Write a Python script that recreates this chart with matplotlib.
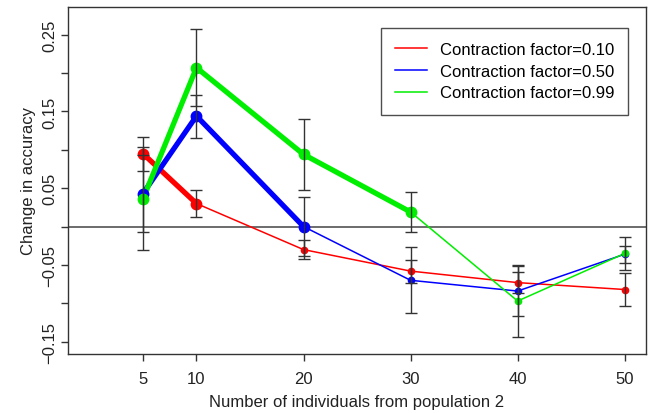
import matplotlib
matplotlib.use('Agg')
import matplotlib.pyplot as plt
from matplotlib.lines import Line2D

plt.rcParams['font.family'] = ['Liberation Sans', 'DejaVu Sans']

# number of individuals from population 2
n_ind = [5, 10, 20, 30, 40, 50]

# mean change in accuracy and error bar half-widths for each contraction factor
cf010_mean = [0.095, 0.030, -0.030, -0.058, -0.073, -0.082]
cf010_err = [0.022, 0.017, 0.012, 0.015, 0.014, 0.021]
cf050_mean = [0.043, 0.144, 0.000, -0.070, -0.084, -0.036]
cf050_err = [0.050, 0.028, 0.038, 0.043, 0.033, 0.011]
cf099_mean = [0.036, 0.207, 0.094, 0.019, -0.097, -0.035]
cf099_err = [0.067, 0.050, 0.046, 0.026, 0.047, 0.022]

# last x value of the bold (significant) part of each curve
bold_until = [10, 20, 30]

labels = ['Contraction factor=0.10', 'Contraction factor=0.50', 'Contraction factor=0.99']
colors = ['#ff0000', '#0000ff', '#00ee00']

yticks = [-0.15, -0.10, -0.05, 0.0, 0.05, 0.10, 0.15, 0.20, 0.25]
ytick_labels = ['\u22120.15', '', '\u22120.05', '', '0.05', '', '0.15', '', '0.25']

series = [(cf010_mean, cf010_err), (cf050_mean, cf050_err), (cf099_mean, cf099_err)]

fig = plt.figure(figsize=(6.5, 4.14), dpi=100)
ax = fig.add_axes([0.1046, 0.1425, 0.8894, 0.8382])

ax.axhline(0, color='#444444', lw=1.1, zorder=1)

for (m, e), col, lim in zip(series, colors, bold_until):
    k = n_ind.index(lim)
    ax.plot(n_ind[:k + 1], m[:k + 1], color=col, lw=3.8, solid_capstyle='round', zorder=2)
    ax.plot(n_ind[k:], m[k:], color=col, lw=1.1, zorder=2)
    ax.plot(n_ind[:k + 1], m[:k + 1], 'o', color=col, ms=7.5, mec=col, zorder=3, ls='none')
    ax.plot(n_ind[k + 1:], m[k + 1:], 'o', color=col, ms=4.5, mec=col, zorder=3, ls='none')

for (m, e) in series:
    ax.errorbar(n_ind, m, yerr=e, fmt='none', ecolor='#333333', elinewidth=1.0,
                capsize=4, capthick=1.0, zorder=4)

ax.set_xlim(-2, 52)
ax.set_ylim(-0.166, 0.286)
ax.set_xticks(n_ind)
ax.set_xticklabels([str(v) for v in n_ind])
ax.set_yticks(yticks)
ax.set_yticklabels(ytick_labels, rotation=90, va='center')
ax.tick_params(direction='out', length=5, width=1, color='#333333', labelsize=12,
               labelcolor='#222222')
ax.tick_params(axis='x', pad=7)
ax.tick_params(axis='y', pad=3)
for s in ax.spines.values():
    s.set_color('#333333')
    s.set_linewidth(1.0)

ax.set_xlabel('Number of individuals from population 2', fontsize=12, color='#222222', labelpad=6)
ax.set_ylabel('Change in accuracy', fontsize=12, color='#222222', labelpad=4)

handles = [Line2D([], [], color=c, lw=1.1) for c in colors]
leg = ax.legend(handles, labels, loc='upper right', bbox_to_anchor=(0.969, 0.9395),
                borderaxespad=0, fontsize=12, frameon=True, fancybox=False,
                handlelength=1.9, handletextpad=0.75, labelspacing=0.4,
                borderpad=0.85)
leg.get_frame().set_edgecolor('#222222')
leg.get_frame().set_linewidth(1.0)

fig.savefig('out.png', dpi=100)
